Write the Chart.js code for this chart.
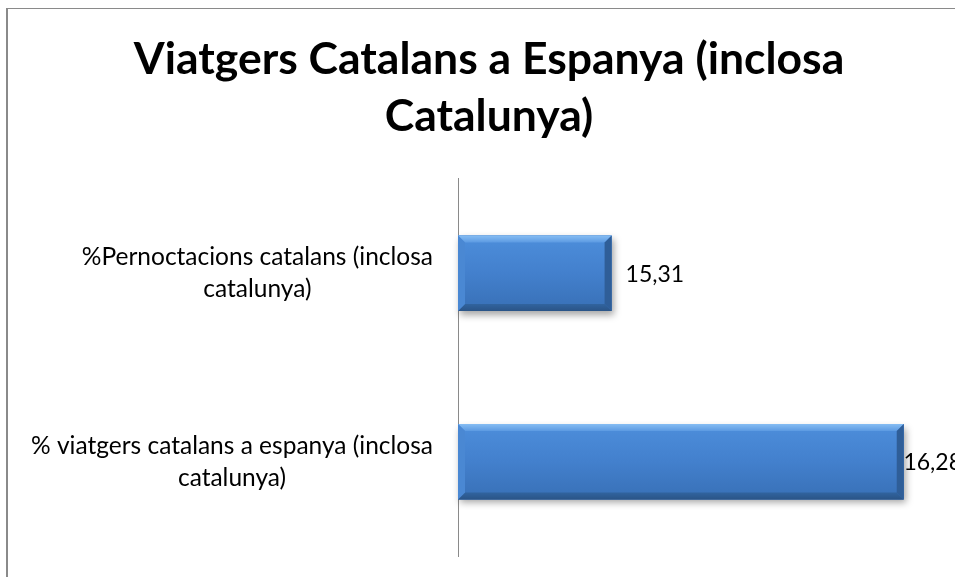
<!DOCTYPE html>
<html>
<head>
<meta charset="utf-8">
<script src="https://cdn.jsdelivr.net/npm/chart.js@4/dist/chart.umd.min.js"></script>
<style>
  html, body { margin: 0; padding: 0; background: #fff; overflow: hidden; width: 955px; height: 577px; }
  #frame { position: absolute; left: 6px; top: 8px; width: 962px; height: 600px; border: 1px solid #8a8a8a; border-left-width: 2px; background: #fff; }
  #chart { display: block; }
</style>
</head>
<body>
<div id="frame"><canvas id="chart" width="962" height="600"></canvas></div>
<script>
// Dades del gràfic
const titleLines = ['Viatgers Catalans a Espanya (inclosa', 'Catalunya)'];
const categories = [
    ['%Pernoctacions catalans (inclosa', 'catalunya)'],
    ['% viatgers catalans a espanya (inclosa', 'catalunya)']
];
const values = [15.31, 16.28];
const axisMin = 14.8;
const axisMax = 16.5;

const labelFont = '24.5px Lato';
const valueFont = '23px Lato';

// Category labels: centred lines, block right-aligned against the axis
const categoryLabels = {
    id: 'categoryLabels',
    afterDraw(chart) {
        const ctx = chart.ctx;
        const yScale = chart.scales.y;
        const right = chart.chartArea.left - 25;
        ctx.save();
        ctx.font = labelFont;
        ctx.fillStyle = '#000';
        ctx.textBaseline = 'middle';
        ctx.textAlign = 'center';
        categories.forEach((lines, i) => {
            const yc = yScale.getPixelForValue(i);
            const w = Math.max(...lines.map(l => ctx.measureText(l).width));
            const cx = right - w / 2;
            const lh = 32;
            lines.forEach((line, j) => {
                ctx.fillText(line, cx, yc + (j - (lines.length - 1) / 2) * lh);
            });
        });
        ctx.restore();
    }
};

// Bevelled bars with shadow + value labels
const bevelBars = {
    id: 'bevelBars',
    afterDatasetsDraw(chart) {
        const ctx = chart.ctx;
        const meta = chart.getDatasetMeta(0);
        meta.data.forEach((bar, i) => {
            const p = bar.getProps(['x', 'y', 'base', 'height'], true);
            const top = p.y - p.height / 2, bot = p.y + p.height / 2;
            const l = Math.max(p.base, chart.chartArea.left), r = p.x, b = 7;
            ctx.save();
            // shadow + body
            ctx.shadowColor = 'rgba(0,0,0,0.35)';
            ctx.shadowBlur = 7;
            ctx.shadowOffsetY = 4;
            ctx.shadowOffsetX = 2;
            const g = ctx.createLinearGradient(0, top, 0, bot);
            g.addColorStop(0, '#4d8edb');
            g.addColorStop(0.5, '#4380cd');
            g.addColorStop(1, '#3870b6');
            ctx.fillStyle = g;
            ctx.fillRect(l, top, r - l, bot - top);
            ctx.shadowColor = 'transparent';
            // top bevel
            const gt = ctx.createLinearGradient(0, top, 0, top + b);
            gt.addColorStop(0, '#86bdf3');
            gt.addColorStop(1, '#5c9ae2');
            ctx.fillStyle = gt;
            ctx.beginPath();
            ctx.moveTo(l, top); ctx.lineTo(r, top); ctx.lineTo(r - b, top + b); ctx.lineTo(l + b, top + b);
            ctx.closePath(); ctx.fill();
            // bottom bevel
            const gb = ctx.createLinearGradient(0, bot - b, 0, bot);
            gb.addColorStop(0, '#31649f');
            gb.addColorStop(1, '#2a5487');
            ctx.fillStyle = gb;
            ctx.beginPath();
            ctx.moveTo(l, bot); ctx.lineTo(r, bot); ctx.lineTo(r - b, bot - b); ctx.lineTo(l + b, bot - b);
            ctx.closePath(); ctx.fill();
            // right bevel
            ctx.fillStyle = '#2f5e98';
            ctx.beginPath();
            ctx.moveTo(r, top); ctx.lineTo(r, bot); ctx.lineTo(r - b, bot - b); ctx.lineTo(r - b, top + b);
            ctx.closePath(); ctx.fill();
            // left bevel
            ctx.fillStyle = '#4a88d3';
            ctx.beginPath();
            ctx.moveTo(l, top); ctx.lineTo(l, bot); ctx.lineTo(l + b, bot - b); ctx.lineTo(l + b, top + b);
            ctx.closePath(); ctx.fill();

            // value label
            const txt = values[i].toFixed(2).replace('.', ',');
            ctx.font = valueFont;
            ctx.fillStyle = '#000';
            ctx.textBaseline = 'middle';
            ctx.textAlign = 'left';
            const w = ctx.measureText(txt).width;
            const tx = Math.min(r + 14, chart.width - 8 - w);
            ctx.fillText(txt, tx, p.y + 1);
            ctx.restore();
        });
    }
};

const ctx = document.getElementById('chart');
new Chart(ctx, {
    type: 'bar',
    data: {
        labels: categories,
        datasets: [{
            data: values,
            backgroundColor: '#4380cd',
            borderWidth: 0,
            categoryPercentage: 0.8,
            barPercentage: 0.5
        }]
    },
    options: {
        indexAxis: 'y',
        responsive: false,
        animation: false,
        layout: {
            padding: { left: 0, right: 0, top: 0, bottom: 53 }
        },
        plugins: {
            legend: { display: false },
            tooltip: { enabled: false },
            title: {
                display: true,
                text: titleLines,
                color: '#000',
                font: { family: 'Lato', size: 44.5, weight: 'bold', lineHeight: 1.28 },
                padding: { top: 22, bottom: 34 }
            }
        },
        scales: {
            x: {
                display: false,
                min: axisMin,
                max: axisMax
            },
            y: {
                display: true,
                ticks: { display: false },
                grid: { display: false },
                border: { display: true, color: '#8a8a8a', width: 1 },
                afterFit(scale) { scale.width = 450; }
            }
        }
    },
    plugins: [categoryLabels, bevelBars]
});
</script>
</body>
</html>
